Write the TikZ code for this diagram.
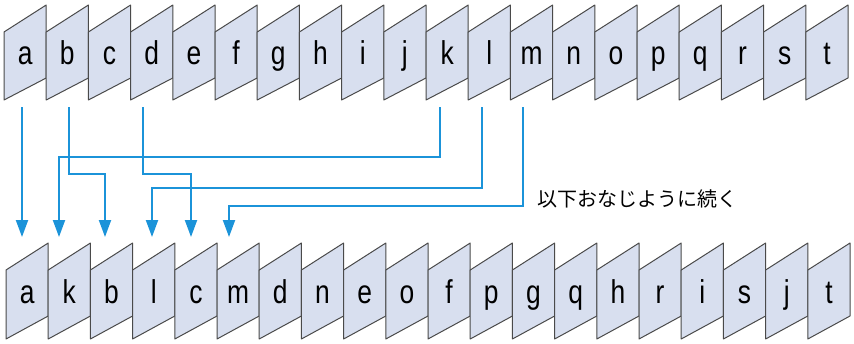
\documentclass[tikz,border=0pt]{standalone}
\usepackage{graphicx}
\usepackage{fontspec}
\setmainfont{Liberation Sans}
\newfontfamily\jpfont{Noto Sans CJK JP}
\usetikzlibrary{arrows.meta}
\definecolor{cardfill}{HTML}{D8DFEF}
\definecolor{cardline}{HTML}{4A4A4A}
\definecolor{arrowblue}{HTML}{1B93D9}
\newcommand\cardtxt[1]{\scalebox{0.8}[1]{#1}}
\begin{document}
\begin{tikzpicture}[x=0.5pt,y=-0.5pt,
  card/.style={fill=cardfill,draw=cardline,line width=0.5pt,line join=round},
  letter/.style={font=\fontsize{16.5}{19}\selectfont,anchor=base,inner sep=0pt},
  conn/.style={draw=arrowblue,line width=1pt,-{Triangle[length=8.5pt,width=6pt]}},
  note/.style={font=\jpfont\fontsize{10}{12}\selectfont,anchor=west,inner sep=0pt}]
\useasboundingbox (0,0) rectangle (854,343);
% top row
\foreach \l [count=\i from 0] in {a,b,c,d,e,f,g,h,i,j,k,l,m,n,o,p,q,r,s,t} {
  \pgfmathsetmacro\x{4+42.2*\i}
  \draw[card] (\x,32) -- (\x+42.2,5) -- (\x+42.2,78) -- (\x,100) -- cycle;
  \node[letter] (top-\i) at (\x+21.1,64) {\cardtxt{\l}};
}
% bottom row
\foreach \l [count=\i from 0] in {a,k,b,l,c,m,d,n,e,o,f,p,g,q,h,r,i,s,j,t} {
  \pgfmathsetmacro\x{6+42.2*\i}
  \draw[card] (\x,270) -- (\x+42.2,243) -- (\x+42.2,316) -- (\x,339) -- cycle;
  \node[letter] (bot-\i) at (\x+21.1,303) {\cardtxt{\l}};
}
% connector ends
\coordinate (sa) at (22,107);  \coordinate (ea) at (22,237);
\coordinate (sb) at (69,107);  \coordinate (eb) at (105,237);
\coordinate (sd) at (143,107); \coordinate (ed) at (191,237);
\coordinate (sk) at (440,107); \coordinate (ek) at (59,237);
\coordinate (sl) at (482,107); \coordinate (el) at (152,237);
\coordinate (sm) at (523,107); \coordinate (em) at (229,237);
\draw[conn] (sa) -- (ea);
\draw[conn] (sk) |- (59,157) -- (ek);
\draw[conn] (sb) |- (105,174) -- (eb);
\draw[conn] (sd) |- (191,174) -- (ed);
\draw[conn] (sl) |- (152,188) -- (el);
\draw[conn] (sm) |- (229,206) -- (em);
\node[note] (txt) at (537,199) {以下おなじように続く};
\end{tikzpicture}
\end{document}
